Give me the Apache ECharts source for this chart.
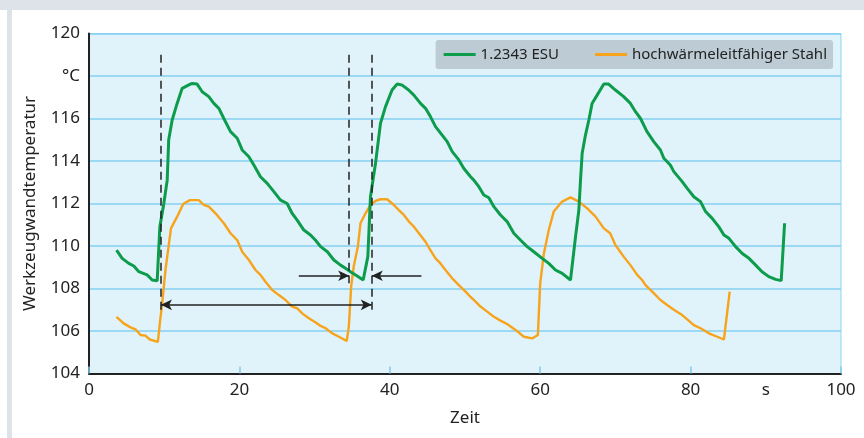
<!DOCTYPE html>
<html>
<head>
<meta charset="utf-8">
<script src="https://cdn.jsdelivr.net/npm/echarts@6/dist/echarts.min.js"></script>
<style>
  html, body { margin: 0; padding: 0; background: #ffffff; }
  #wrap { position: relative; width: 864px; height: 438px; overflow: hidden; background: #ffffff; }
  #topband { position: absolute; left: 0; top: 0; width: 864px; height: 10px; background: #dde3e8; }
  #leftband { position: absolute; left: 7px; top: 0; width: 5px; height: 438px; background: #dde3e8; }
  #chart { position: absolute; left: 0; top: 0; width: 864px; height: 438px; }
</style>
</head>
<body>
<div id="wrap">
  <div id="topband"></div>
  <div id="leftband"></div>
  <div id="chart"></div>
</div>
<script>
// ---- data (time in s, temperature in °C) ----
const seriesNames = ['1.2343 ESU', 'hochwärmeleitfähiger Stahl'];

const esuData = [
  [3.66,109.81],[4.41,109.42],[5.29,109.18],[5.96,109.06],[6.63,108.79],[7.73,108.64],[8.4,108.4],[9.07,108.37],[9.3,108.4],
  [9.42,110.9],[9.95,112.0],[10.4,113.1],[10.6,115.0],[11.06,115.93],[11.72,116.71],[12.39,117.42],[13.28,117.58],[13.72,117.65],
  [14.38,117.62],[15.05,117.26],[15.93,117.03],[16.6,116.71],[17.27,116.48],[17.93,116.0],[18.82,115.38],[19.71,115.07],
  [20.37,114.52],[21.26,114.2],[21.92,113.81],[22.8,113.26],[23.7,112.95],[24.58,112.56],[25.47,112.16],[26.35,112.0],
  [27.0,111.54],[27.68,111.22],[28.57,110.75],[29.45,110.52],[30.1,110.28],[30.8,109.97],[31.7,109.73],[32.56,109.34],
  [33.45,109.1],[34.1,108.95],[34.77,108.79],[35.66,108.59],[36.46,108.4],[37.08,109.5],[37.43,112.32],[38.1,113.89],
  [38.76,115.77],[39.43,116.56],[40.3,117.34],[40.98,117.62],[41.6,117.58],[42.5,117.34],[43.2,117.1],[44.08,116.71],
  [44.75,116.48],[45.4,116.09],[46.08,115.62],[46.96,115.22],[47.63,114.91],[48.3,114.44],[49.18,114.05],[49.85,113.65],
  [50.74,113.26],[51.17,113.1],[51.84,112.79],[52.5,112.4],[53.17,112.27],[53.84,111.85],[54.72,111.46],[55.6,111.15],
  [56.49,110.6],[57.37,110.28],[58.26,109.97],[59.15,109.73],[60.26,109.42],[61.14,109.18],[62.03,108.87],[62.92,108.71],
  [64.03,108.4],[64.7,110.44],[65.14,111.69],[65.36,113.1],[65.58,114.36],[66.02,115.22],[66.47,115.93],[66.9,116.71],
  [67.57,117.1],[68.46,117.62],[69.1,117.62],[70.0,117.34],[71.1,117.03],[72.0,116.71],[72.67,116.32],[73.34,116.0],
  [74.2,115.38],[75.1,114.91],[75.99,114.52],[76.44,114.13],[77.3,113.81],[77.77,113.5],[78.88,113.03],[79.55,112.71],
  [80.43,112.32],[81.32,112.09],[81.99,111.62],[82.87,111.3],[83.76,110.9],[84.43,110.52],[85.1,110.36],[85.98,109.97],
  [86.87,109.65],[87.76,109.42],[88.65,109.1],[89.5,108.79],[90.4,108.56],[91.3,108.43],[92.05,108.37],[92.5,111.07]
];

const stahlData = [
  [3.66,106.67],[4.6,106.36],[5.52,106.17],[6.18,106.08],[6.85,105.81],[7.5,105.78],[8.09,105.6],[9.16,105.49],
  [9.42,106.36],[9.73,107.3],[10.17,108.87],[10.9,110.83],[11.72,111.38],[12.53,111.98],[13.41,112.16],[14.6,112.16],
  [15.27,111.93],[15.93,111.85],[16.82,111.54],[17.93,111.07],[18.82,110.6],[19.71,110.28],[20.37,109.73],[21.26,109.34],
  [22.14,108.87],[22.8,108.64],[23.47,108.32],[24.36,107.93],[25.25,107.69],[26.13,107.46],[27.0,107.15],[27.68,107.07],
  [28.35,106.83],[29.23,106.6],[30.1,106.41],[30.8,106.24],[31.47,106.13],[32.35,105.89],[33.24,105.73],[34.27,105.53],
  [34.55,106.2],[34.86,108.09],[35.2,109.03],[35.75,109.97],[36.1,111.07],[36.77,111.54],[37.43,111.93],[38.1,112.12],
  [38.76,112.2],[39.65,112.2],[40.54,111.93],[41.2,111.69],[41.87,111.46],[42.54,111.15],[43.2,110.91],[43.87,110.6],
  [44.75,110.2],[45.4,109.81],[46.08,109.42],[46.74,109.18],[47.4,108.87],[48.3,108.48],[49.18,108.16],[50.07,107.85],
  [50.74,107.6],[51.17,107.46],[52.06,107.15],[52.95,106.91],[53.84,106.67],[54.72,106.49],[55.6,106.33],[56.72,106.05],
  [57.83,105.73],[58.93,105.65],[59.69,105.81],[60.0,108.24],[60.49,109.65],[61.14,110.75],[61.8,111.62],[62.92,112.09],
  [64.03,112.29],[65.14,112.09],[66.25,111.77],[67.36,111.38],[68.46,110.83],[69.3,110.6],[70.0,110.05],[71.1,109.5],
  [72.0,109.1],[72.9,108.64],[73.55,108.4],[74.0,108.16],[74.9,107.85],[75.99,107.46],[76.88,107.22],[77.77,107.0],
  [78.88,106.75],[79.55,106.55],[80.43,106.28],[81.32,106.13],[82.43,105.89],[83.54,105.73],[84.43,105.6],[85.2,107.85]
];

// axis tick labels
const yTickLabels = { 104:'104', 106:'106', 108:'108', 110:'110', 112:'112', 114:'114', 116:'116', 118:'°C', 120:'120' };
const xTickLabels = { 0:'0', 20:'20', 40:'40', 60:'60', 80:'80', 100:'100' };
const xUnitLabel = { 90:'s' };

// annotation lines (data coordinates)
const dashedLines = [
  [[9.57,119],[9.57,106.8]],
  [[34.6,119],[34.6,108.25]],
  [[37.6,119],[37.6,106.9]]
];
const doubleArrow = [[9.57,107.23],[37.6,107.23]];
const leftArrow  = [[27.9,108.6],[34.6,108.6]];
const rightArrow = [[44.2,108.6],[37.6,108.6]];

// ---- chart ----
const FONT = '"Noto Sans", "Open Sans", sans-serif';
const chart = echarts.init(document.getElementById('chart'), null, { renderer: 'canvas' });

const arrowLine = (pts, symbols) => ({
  symbol: symbols,
  symbolSize: [8, 11],
  lineStyle: { type: 'solid', color: '#222', width: 1.5 },
  data: [[{ coord: pts[0] }, { coord: pts[1] }]]
});

chart.setOption({
  animation: false,
  backgroundColor: 'transparent',
  textStyle: { fontFamily: FONT },
  grid: {
    left: 89, right: 23, top: 33.5, bottom: 64.5,
    show: true, backgroundColor: '#e0f3fa', borderColor: '#8fd4f1', borderWidth: 1
  },
  legend: {
    right: 31, top: 40,
    backgroundColor: '#bccbd4', borderRadius: 3,
    padding: [7, 6, 7, 8],
    itemWidth: 32, itemHeight: 3, itemGap: 36,
    icon: 'rect',
    textStyle: { fontSize: 15, color: '#222', fontFamily: FONT },
    data: seriesNames
  },
  xAxis: [
    {
      type: 'value', min: 0, max: 100, interval: 20,
      name: 'Zeit', nameLocation: 'middle', nameGap: 36,
      nameTextStyle: { fontSize: 17, color: '#222' },
      axisLine: { show: true, onZero: false, lineStyle: { color: '#222', width: 2 } },
      axisTick: { show: true, inside: true, length: 7, lineStyle: { color: '#7fcbee', width: 1.5 } },
      axisLabel: { fontSize: 17, color: '#222', margin: 8, formatter: v => xTickLabels[v] ?? '' },
      splitLine: { show: false }
    },
    {
      type: 'value', min: 0, max: 100, interval: 10, position: 'bottom',
      axisLine: { show: false }, axisTick: { show: false }, splitLine: { show: false },
      axisLabel: { fontSize: 17, color: '#222', margin: 8, formatter: v => xUnitLabel[v] ?? '' }
    }
  ],
  yAxis: {
    type: 'value', min: 104, max: 120, interval: 2,
    name: 'Werkzeugwandtemperatur', nameLocation: 'middle', nameGap: 50,
    nameTextStyle: { fontSize: 17, color: '#222' },
    axisLine: { show: true, lineStyle: { color: '#222', width: 2 } },
    axisTick: { show: false },
    axisLabel: { fontSize: 17, color: '#222', margin: 9, formatter: v => yTickLabels[v] ?? '' },
    splitLine: { show: true, lineStyle: { color: '#84cff0', width: 1.5 } }
  },
  series: [
    {
      name: seriesNames[0], type: 'line', data: esuData, showSymbol: false, symbol: 'none',
      lineStyle: { color: '#0c9c4b', width: 3 }, itemStyle: { color: '#0c9c4b' }, z: 4
    },
    {
      name: seriesNames[1], type: 'line', data: stahlData, showSymbol: false, symbol: 'none',
      lineStyle: { color: '#f7a31c', width: 2.4 }, itemStyle: { color: '#f7a31c' }, z: 3
    },
    {
      name: 'annot-dashed', type: 'line', data: [], silent: true,
      markLine: {
        silent: true, symbol: 'none', label: { show: false },
        lineStyle: { type: [8, 5], color: '#222', width: 1.5 },
        data: dashedLines.map(p => [{ coord: p[0] }, { coord: p[1] }])
      }, z: 5
    },
    { name: 'annot-a1', type: 'line', data: [], silent: true,
      markLine: Object.assign({ silent: true, label: { show: false } }, arrowLine(doubleArrow, ['arrow', 'arrow'])), z: 5 },
    { name: 'annot-a2', type: 'line', data: [], silent: true,
      markLine: Object.assign({ silent: true, label: { show: false } }, arrowLine(leftArrow, ['none', 'arrow'])), z: 5 },
    { name: 'annot-a3', type: 'line', data: [], silent: true,
      markLine: Object.assign({ silent: true, label: { show: false } }, arrowLine(rightArrow, ['none', 'arrow'])), z: 5 }
  ]
});
</script>
</body>
</html>
